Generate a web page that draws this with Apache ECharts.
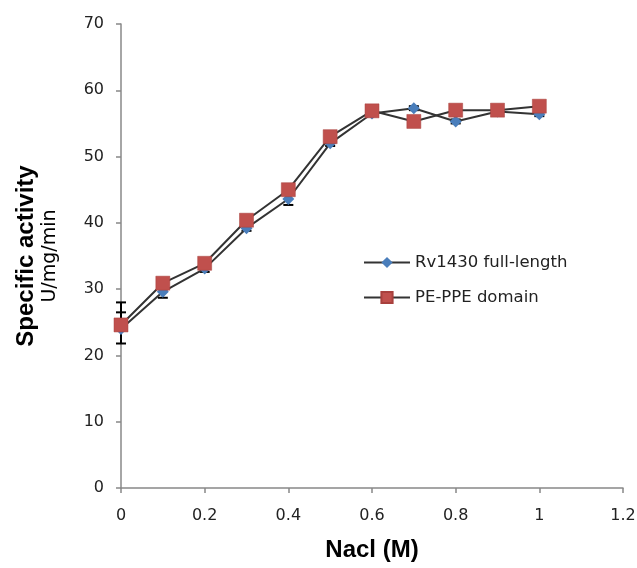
<!DOCTYPE html>
<html>
<head>
<meta charset="utf-8">
<script src="https://cdn.jsdelivr.net/npm/echarts@6/dist/echarts.min.js"></script>
<style>html,body{margin:0;padding:0;background:#fff}#c{width:637px;height:568px}</style>
</head>
<body>
<div id="c"></div>
<script>
var xValues = [0, 0.1, 0.2, 0.3, 0.4, 0.5, 0.6, 0.7, 0.8, 0.9, 1.0];
var rvFull = [24.0, 29.6, 33.1, 39.2, 43.6, 52.0, 56.5, 57.3, 55.3, 56.8, 56.4];
var pePpe = [24.6, 30.9, 33.9, 40.4, 45.0, 53.0, 56.9, 55.3, 57.0, 57.0, 57.6];
var rvErrLow = [21.8, 28.7, 32.6, 38.8, 42.7, 51.6, 56.2, 57.0, 55.0, 56.5, 56.1];
var rvErrHigh = [28.0, 30.5, 33.6, 39.6, 44.5, 52.4, 56.8, 57.6, 55.6, 57.1, 56.7];
var peErrLow = [24.6, 30.9, 33.9, 40.4, 45.0, 53.0, 56.9, 55.3, 57.0, 57.0, 57.6];
var peErrHigh = [26.5, 30.9, 33.9, 40.4, 45.0, 53.0, 56.9, 55.3, 57.0, 57.0, 57.6];
var xTicks = ['0', '0.2', '0.4', '0.6', '0.8', '1', '1.2'];
var yTicks = ['0', '10', '20', '30', '40', '50', '60', '70'];

function pairs(ys) { return xValues.map(function (x, i) { return [x, ys[i]]; }); }
function errData(lo, hi) { return xValues.map(function (x, i) { return [x, lo[i], hi[i]]; }); }

function errRender(params, api) {
  var x = api.value(0);
  var lo = api.coord([x, api.value(1)]);
  var hi = api.coord([x, api.value(2)]);
  var hw = 5;
  var st = { stroke: '#000', lineWidth: 2 };
  return {
    type: 'group',
    children: [
      { type: 'line', shape: { x1: lo[0], y1: lo[1], x2: hi[0], y2: hi[1] }, style: st },
      { type: 'line', shape: { x1: lo[0] - hw, y1: lo[1], x2: lo[0] + hw, y2: lo[1] }, style: st },
      { type: 'line', shape: { x1: hi[0] - hw, y1: hi[1], x2: hi[0] + hw, y2: hi[1] }, style: st }
    ]
  };
}

var chart = echarts.init(document.getElementById('c'), null, { renderer: 'canvas' });
var axisFont = { fontFamily: 'DejaVu Sans', fontSize: 16, color: '#222' };
chart.setOption({
  animation: false,
  backgroundColor: '#fff',
  grid: { left: 121, right: 14, top: 24, bottom: 80, containLabel: false, outerBoundsMode: 'none' },
  legend: {
    orient: 'vertical', left: 358, top: 249, itemGap: 18,
    itemWidth: 46, itemHeight: 14,
    textStyle: { fontFamily: 'DejaVu Sans', fontSize: 16.5, color: '#222' },
    data: ['Rv1430 full-length', 'PE-PPE domain']
  },
  xAxis: {
    type: 'value', min: 0, max: 1.2, interval: 0.2,
    name: 'Nacl (M)', nameLocation: 'middle', nameGap: 50,
    nameTextStyle: { fontFamily: 'Liberation Sans', fontWeight: 'bold', fontSize: 24, color: '#000' },
    axisLine: { show: true, lineStyle: { color: '#888', width: 1.5 } },
    axisTick: { show: true, inside: false, length: 5, lineStyle: { color: '#888', width: 1.5 } },
    axisLabel: Object.assign({ margin: 20, formatter: function (v) { return xTicks[Math.round(v / 0.2)]; } }, axisFont),
    splitLine: { show: false }
  },
  yAxis: {
    type: 'value', min: 0, max: 70, interval: 10,
    name: '{a|Specific activity}\n{b|U/mg/min}', nameLocation: 'middle', nameGap: 60, nameRotate: 90,
    nameTextStyle: {
      padding: [0, 0, 0, 0],
      rich: {
        a: { fontFamily: 'Liberation Sans', fontWeight: 'bold', fontSize: 24, color: '#000', lineHeight: 26 },
        b: { fontFamily: 'DejaVu Sans', fontSize: 19, color: '#000', lineHeight: 22 }
      }
    },
    axisLine: { show: true, lineStyle: { color: '#888', width: 1.5 } },
    axisTick: { show: true, inside: false, length: 5, lineStyle: { color: '#888', width: 1.5 } },
    axisLabel: Object.assign({ margin: 17, formatter: function (v) { return yTicks[Math.round(v / 10)]; } }, axisFont),
    splitLine: { show: false }
  },
  series: [
    { type: 'custom', name: 'errRv', renderItem: errRender, data: errData(rvErrLow, rvErrHigh), z: 1, silent: true },
    { type: 'custom', name: 'errPe', renderItem: errRender, data: errData(peErrLow, peErrHigh), z: 1, silent: true },
    {
      type: 'line', name: 'Rv1430 full-length', data: pairs(rvFull), z: 3,
      symbol: 'diamond', symbolSize: 12, showAllSymbol: true,
      lineStyle: { color: '#333', width: 2 },
      itemStyle: { color: '#4a7ebb', borderColor: '#4a7ebb', borderWidth: 0 }
    },
    {
      type: 'line', name: 'PE-PPE domain', data: pairs(pePpe), z: 4,
      symbol: 'rect', symbolSize: 14, showAllSymbol: true,
      lineStyle: { color: '#333', width: 2 },
      itemStyle: { color: '#c0504d', borderColor: '#a8403d', borderWidth: 0.5 }
    }
  ]
});
</script>
</body>
</html>
